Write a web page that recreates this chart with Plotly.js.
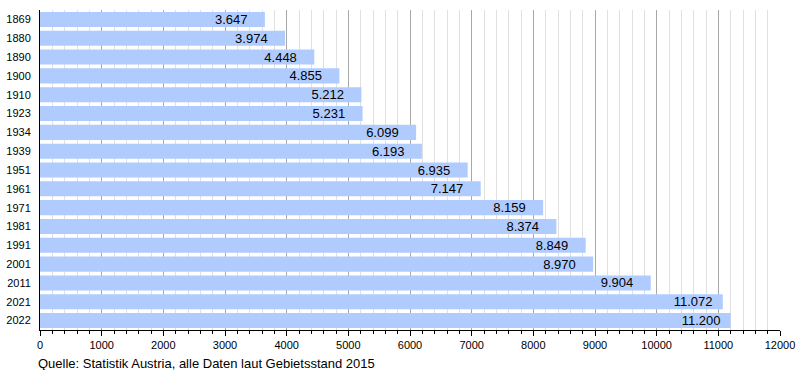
<!DOCTYPE html>
<html><head><meta charset="utf-8">
<script src="https://cdn.plot.ly/plotly-3.0.1.min.js"></script>
<style>body{margin:0;background:#fff}#c{width:800px;height:370px}</style>
</head><body><div id="c"></div>
<script>
const years = ["1869","1880","1890","1900","1910","1923","1934","1939","1951","1961","1971","1981","1991","2001","2011","2021","2022"];
const population = [3647,3974,4448,4855,5212,5231,6099,6193,6935,7147,8159,8374,8849,8970,9904,11072,11200];
const xTicks = [0,1000,2000,3000,4000,5000,6000,7000,8000,9000,10000,11000,12000];
const sourceNote = "Quelle: Statistik Austria, alle Daten laut Gebietsstand 2015";

// labels sit in a fixed-width field, right-aligned
const NB = '\u00a0';
const labelTemplates = population.map(v => '%{x:,d}' + NB.repeat(v >= 10000 ? 2 : 4));

const trace = {
  type: 'bar', orientation: 'h',
  y: years, x: population,
  marker: {color: '#b0ccff', line: {width: 0}},
  texttemplate: labelTemplates,
  textposition: 'inside', insidetextanchor: 'end',
  textfont: {family: 'Liberation Sans, Arial, sans-serif', size: 13, color: '#000'},
  constraintext: 'none',
  hoverinfo: 'none'
};
const layout = {
  width: 800, height: 370,
  margin: {l: 40, r: 20, t: 10, b: 40},
  separators: ',.',
  paper_bgcolor: '#fff', plot_bgcolor: '#fff',
  bargap: 0.2,
  showlegend: false,
  font: {family: 'Liberation Sans, Arial, sans-serif', color: '#000', size: 11},
  xaxis: {
    range: [0, 12000], tickvals: xTicks, tickformat: 'd',
    showgrid: true, gridcolor: '#a8a8a8', gridwidth: 1,
    ticks: 'outside', ticklen: 5, tickcolor: '#000',
    showline: true, linecolor: '#000', linewidth: 1,
    zeroline: false,
    tickfont: {size: 11},
    minor: {dtick: 200, tick0: 0, showgrid: true, gridcolor: '#e0e0e0', gridwidth: 1, ticks: 'outside', ticklen: 3, tickcolor: '#000'}
  },
  yaxis: {
    type: 'category', autorange: 'reversed',
    showgrid: false, showline: true, linecolor: '#000', linewidth: 1,
    ticks: '', ticklabelstandoff: 6,
    tickfont: {size: 11}
  },
  annotations: [{
    text: sourceNote, xref: 'paper', yref: 'paper', x: -0.005, y: 0, yshift: -24,
    xanchor: 'left', yanchor: 'top', showarrow: false,
    font: {size: 13, color: '#000'}
  }]
};
Plotly.newPlot('c', [trace], layout, {displayModeBar: false, staticPlot: true});
</script></body></html>
